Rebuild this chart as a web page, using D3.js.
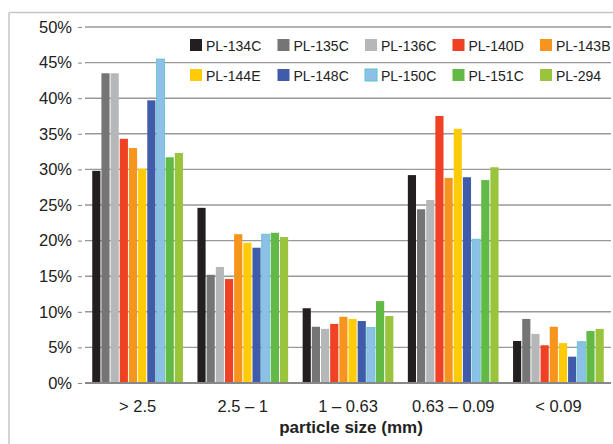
<!DOCTYPE html>
<html>
<head>
<meta charset="utf-8">
<script src="https://cdn.jsdelivr.net/npm/d3@7/dist/d3.min.js"></script>
<style>
  html, body { margin: 0; padding: 0; background: #fff; }
  svg { display: block; font-family: "Liberation Sans", Arial, sans-serif; }
</style>
</head>
<body>
<svg id="chart" width="613" height="444"></svg>
<script>
const categories = ["> 2.5", "2.5 \u2013 1", "1 \u2013 0.63", "0.63 \u2013 0.09", "< 0.09"];
const seriesNames = ["PL-134C", "PL-135C", "PL-136C", "PL-140D", "PL-143B",
                     "PL-144E", "PL-148C", "PL-150C", "PL-151C", "PL-294"];
const seriesColors = ["#231f20", "#757575", "#b5b7b8", "#ef4123", "#f7941d",
                      "#ffcb08", "#3f5ba9", "#8cc0e6", "#62b946", "#99c43c"];
// values (%) per series, in category order
const PL134C = [29.8, 24.6, 10.5, 29.2, 5.9];
const PL135C = [43.5, 15.2, 7.9, 24.4, 9.0];
const PL136C = [43.5, 16.3, 7.6, 25.7, 6.9];
const PL140D = [34.3, 14.6, 8.3, 37.5, 5.3];
const PL143B = [33.0, 20.9, 9.3, 28.8, 7.9];
const PL144E = [30.1, 19.7, 9.0, 35.7, 5.6];
const PL148C = [39.7, 19.0, 8.7, 28.9, 3.7];
const PL150C = [45.5, 20.9, 7.8, 20.2, 5.8];
const PL151C = [31.7, 21.1, 11.5, 28.5, 7.3];
const PL294  = [32.3, 20.5, 9.4, 30.3, 7.6];
const yTicks = [0, 5, 10, 15, 20, 25, 30, 35, 40, 45, 50];
const xTitle = "particle size (mm)";

const seriesValues = [PL134C, PL135C, PL136C, PL140D, PL143B, PL144E, PL148C, PL150C, PL151C, PL294];

const svg = d3.select("#chart");

// frame
svg.append("line").attr("x1", 9).attr("x2", 9).attr("y1", 12.5).attr("y2", 444)
  .attr("stroke", "#c6c6c6").attr("stroke-width", 1.5);
svg.append("line").attr("x1", 9).attr("x2", 613).attr("y1", 12.5).attr("y2", 12.5)
  .attr("stroke", "#c6c6c6").attr("stroke-width", 1.5);

const pLeft = 85, pRight = 611, pTop = 27, pBottom = 383;

const y = d3.scaleLinear().domain([0, 50]).range([pBottom, pTop]);
const x0 = d3.scaleBand().domain(categories).range([pLeft, pRight]).padding(0);
const x1 = d3.scaleBand().domain(seriesNames)
  .range([7.25, x0.bandwidth() - 7.25]).paddingInner(0.11).paddingOuter(0);

// gridlines
svg.append("g").selectAll("line").data(yTicks.filter(d => d > 0)).join("line")
  .attr("x1", pLeft).attr("x2", pRight)
  .attr("y1", d => y(d)).attr("y2", d => y(d))
  .attr("stroke", "#999").attr("stroke-width", 1.4);

// y axis
const yAxis = d3.axisLeft(y).tickValues(yTicks).tickFormat(d => d + "%").tickSize(4).tickPadding(6);
const gy = svg.append("g").attr("transform", `translate(${pLeft - 3},0)`).call(yAxis);
gy.select(".domain").remove();
gy.selectAll(".tick line").attr("stroke", "#888");
gy.selectAll(".tick text").attr("font-size", 16.5).attr("fill", "#222")
  .attr("font-family", "Liberation Sans, Arial, sans-serif");

// bars
const groups = svg.append("g").selectAll("g").data(categories).join("g")
  .attr("transform", c => `translate(${x0(c)},0)`);
groups.selectAll("rect")
  .data((c, ci) => seriesNames.map((s, si) => ({s, si, v: seriesValues[si][ci]})))
  .join("rect")
  .attr("x", d => x1(d.s))
  .attr("width", x1.bandwidth())
  .attr("y", d => y(d.v))
  .attr("height", d => y(0) - y(d.v))
  .attr("fill", d => seriesColors[d.si])
  .attr("stroke", d => d.s === "PL-150C" ? "#5bc5c8" : "none")
  .attr("stroke-width", 0.8);

// baseline
svg.append("line").attr("x1", pLeft).attr("x2", pRight).attr("y1", y(0)).attr("y2", y(0))
  .attr("stroke", "#888").attr("stroke-width", 2);

// x axis labels
const xAxis = d3.axisBottom(x0).tickSize(0).tickPadding(17);
const gx = svg.append("g").attr("transform", `translate(0,${pBottom})`).call(xAxis);
gx.select(".domain").remove();
gx.selectAll(".tick text").attr("font-size", 16.5).attr("fill", "#222")
  .attr("font-family", "Liberation Sans, Arial, sans-serif");

// x title
svg.append("text").attr("x", (pLeft + pRight) / 2 + 3).attr("y", 433)
  .attr("text-anchor", "middle").attr("font-size", 17).attr("font-weight", "bold")
  .attr("fill", "#222").text(xTitle);

// legend
const legend = svg.append("g");
const legItems = legend.selectAll("g").data(seriesNames).join("g")
  .attr("transform", (d, i) => `translate(${190 + (i % 5) * 87.5},${i < 5 ? 45 : 75})`);
legItems.append("rect").attr("x", 0).attr("y", -6).attr("width", 12).attr("height", 12)
  .attr("fill", (d, i) => seriesColors[i])
  .attr("stroke", d => d === "PL-150C" ? "#5bc5c8" : "none").attr("stroke-width", 1);
legItems.append("text").attr("x", 16).attr("y", 5.5)
  .attr("font-size", 14).attr("fill", "#222").text(d => d);
</script>
</body>
</html>
